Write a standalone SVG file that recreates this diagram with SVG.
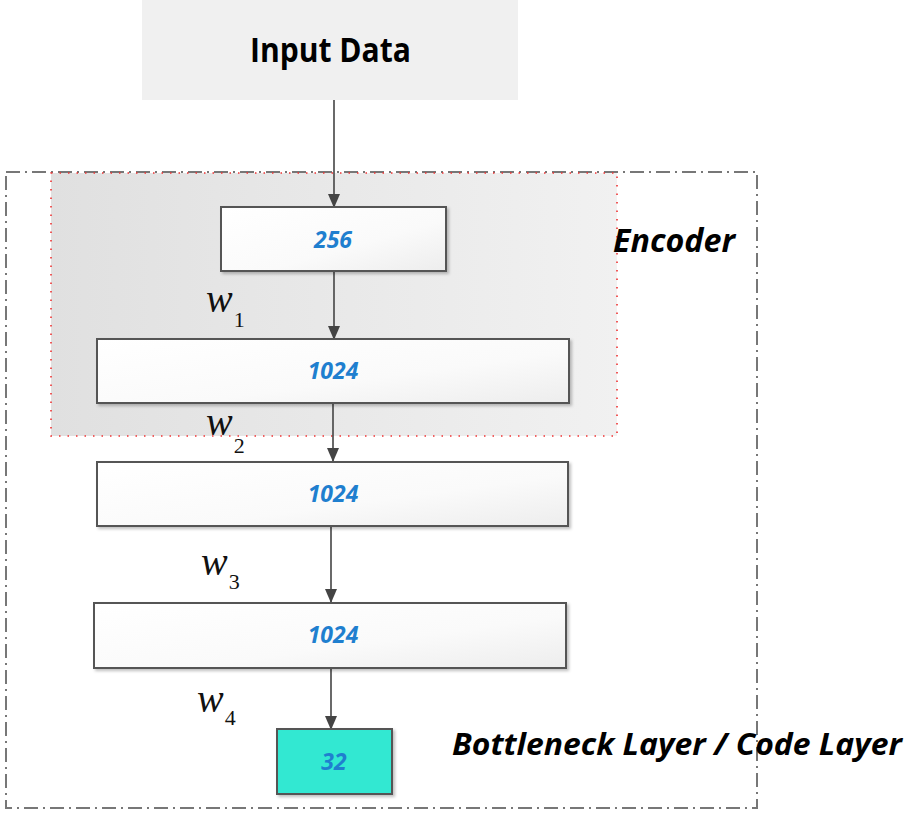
<svg xmlns="http://www.w3.org/2000/svg" width="913" height="813" viewBox="0 0 913 813">
<style>
.layer{fill:url(#boxg);stroke:#555;stroke-width:2}
.num{font-family:"Open Sans","Liberation Sans",sans-serif;font-style:italic;font-weight:bold;font-size:23px;fill:#1f7fcf;text-anchor:middle}
.w{font-family:"Liberation Serif",serif;font-style:italic;font-size:40px;fill:#111}
.ws{font-family:"Liberation Serif",serif;font-style:normal;font-size:22px;fill:#111}
.lbl{font-family:"Open Sans","Liberation Sans",sans-serif;font-style:italic;font-weight:bold;font-size:33px;fill:#000}
.conn{stroke:#444;stroke-width:1.6;fill:none;marker-end:url(#arr)}
</style>
<defs>
<linearGradient id="boxg" x1="0" y1="0" x2="1" y2="1">
<stop offset="0" stop-color="#ffffff"/><stop offset="0.6" stop-color="#fafafa"/><stop offset="1" stop-color="#ededed"/>
</linearGradient>
<linearGradient id="encg" x1="0" y1="0" x2="1" y2="0">
<stop offset="0" stop-color="#e0e0e0"/><stop offset="1" stop-color="#f1f1f1"/>
</linearGradient>
<marker id="arr" markerWidth="14" markerHeight="12" refX="13" refY="6" orient="auto" markerUnits="userSpaceOnUse">
<path d="M0,0 L14,6 L0,12 Z" fill="#444"/>
</marker>
<filter id="sh" x="-5%" y="-10%" width="115%" height="130%"><feDropShadow dx="2" dy="2" stdDeviation="1.5" flood-color="#000" flood-opacity="0.25"/></filter>
</defs>

<g id="input">
<rect x="142" y="0" width="376" height="100" fill="#f0f0f0"/>
<text x="250" y="62" textLength="161" lengthAdjust="spacingAndGlyphs" font-family="Open Sans, Liberation Sans, sans-serif" font-weight="bold" font-size="34" fill="#000">Input Data</text>
</g>

<g id="outer">
<rect x="6" y="172" width="751" height="636" fill="none" stroke="#777" stroke-width="2" stroke-dasharray="14,5,2,5"/>
</g>

<g id="encoder">
<rect x="51" y="173" width="566" height="263" fill="url(#encg)" stroke="#e33" stroke-width="1.6" stroke-dasharray="1.5,7"/>
<text class="lbl" x="613" y="252" textLength="122" lengthAdjust="spacingAndGlyphs">Encoder</text>
</g>

<g id="connectors">
<line class="conn" x1="334" y1="100" x2="334" y2="207"/>
<line class="conn" x1="334" y1="271" x2="334" y2="339"/>
<line class="conn" x1="333" y1="403" x2="333" y2="461"/>
<line class="conn" x1="331" y1="526" x2="331" y2="602"/>
<line class="conn" x1="331" y1="668" x2="331" y2="729"/>
</g>

<g id="l256">
<rect class="layer" x="221" y="207" width="225" height="64" filter="url(#sh)"/>
<text class="num" x="333" y="248">256</text>
</g>
<g id="l1024a">
<rect class="layer" x="97" y="339" width="472" height="64" filter="url(#sh)"/>
<text class="num" x="333" y="379">1024</text>
</g>
<g id="l1024b">
<rect class="layer" x="97" y="462" width="471" height="64" filter="url(#sh)"/>
<text class="num" x="333" y="502">1024</text>
</g>
<g id="l1024c">
<rect class="layer" x="94" y="603" width="472" height="65" filter="url(#sh)"/>
<text class="num" x="333" y="643">1024</text>
</g>
<g id="l32">
<rect x="277" y="729" width="115" height="65" fill="#30e8d2" stroke="#555" stroke-width="2" filter="url(#sh)"/>
<text class="num" x="334" y="770">32</text>
<text class="lbl" x="452" y="755" font-size="30" style="font-size:30px" textLength="450" lengthAdjust="spacingAndGlyphs">Bottleneck Layer / Code Layer</text>
</g>

<g id="weights">
<text class="w" x="206" y="312">w<tspan class="ws" dx="1" dy="15">1</tspan></text>
<text class="w" x="206" y="435">w<tspan class="ws" dx="1" dy="18">2</tspan></text>
<text class="w" x="201" y="575">w<tspan class="ws" dx="1" dy="14">3</tspan></text>
<text class="w" x="197" y="712">w<tspan class="ws" dx="1" dy="13">4</tspan></text>
</g>
</svg>
